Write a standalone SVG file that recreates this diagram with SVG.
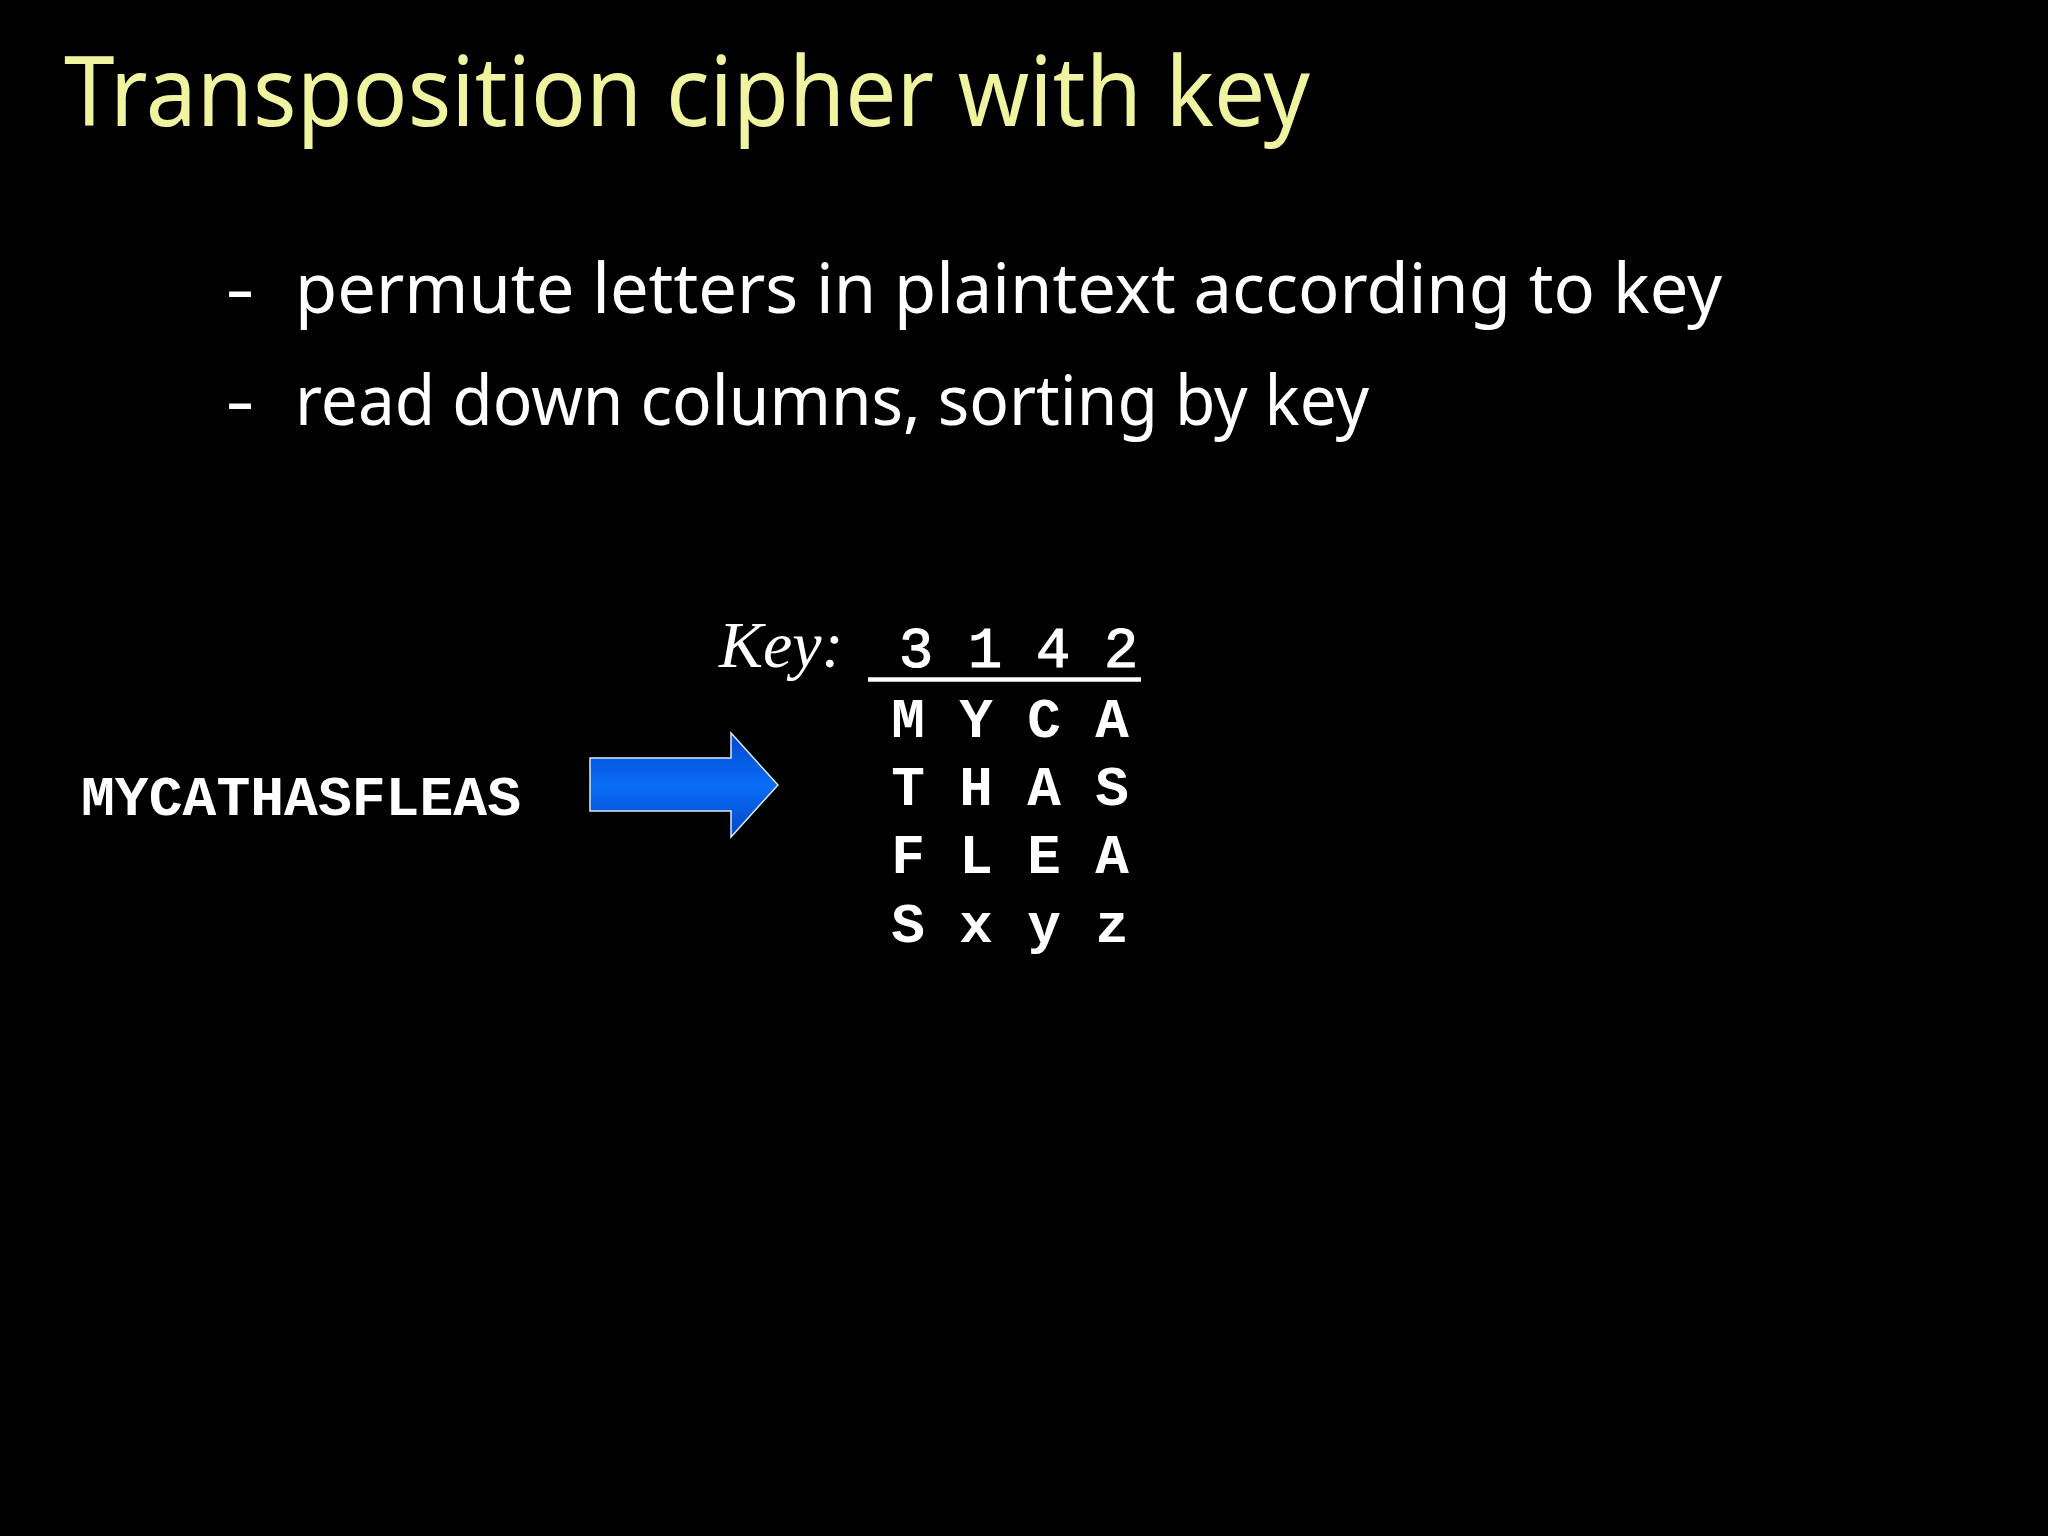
<svg xmlns="http://www.w3.org/2000/svg" width="2048" height="1536" viewBox="0 0 2048 1536">
  <defs>
    <linearGradient id="arrowFill" x1="0" y1="0" x2="0" y2="1">
      <stop offset="0" stop-color="#0048c8"/>
      <stop offset="0.5" stop-color="#0a6cf6"/>
      <stop offset="1" stop-color="#0048c8"/>
    </linearGradient>
    <style>
      .title { font-family: "Noto Sans", "DejaVu Sans", sans-serif; font-size: 96px; fill: #f0f4a0; }
      .bullet { font-family: "Noto Sans", "DejaVu Sans", sans-serif; font-size: 70px; fill: #ffffff; }
      .keylabel { font-family: "Liberation Serif", serif; font-style: italic; font-size: 66px; fill: #ffffff; }
      .digit { font-family: "Liberation Mono", monospace; font-size: 57px; fill: #ffffff; stroke: #ffffff; stroke-width: 1.2px; text-anchor: middle; }
      .cell { font-family: "Liberation Mono", monospace; font-weight: bold; font-size: 56px; fill: #ffffff; text-anchor: middle; }
      .plain { font-family: "Liberation Mono", monospace; font-weight: bold; font-size: 56px; fill: #ffffff; }
    </style>
  </defs>
  <rect x="0" y="0" width="2048" height="1536" fill="#000000"/>

  <g id="title">
    <text class="title" x="64" y="126" textLength="1246" lengthAdjust="spacingAndGlyphs">Transposition cipher with key</text>
  </g>

  <g id="bullets">
    <text class="bullet" x="227" y="313" textLength="26" lengthAdjust="spacingAndGlyphs">–</text>
    <text class="bullet" x="295" y="313" textLength="1427" lengthAdjust="spacingAndGlyphs">permute letters in plaintext according to key</text>
    <text class="bullet" x="227" y="425" textLength="26" lengthAdjust="spacingAndGlyphs">–</text>
    <text class="bullet" x="295" y="425" textLength="1074" lengthAdjust="spacingAndGlyphs">read down columns, sorting by key</text>
  </g>

  <g id="plaintext">
    <text class="plain" x="81" y="815" textLength="440" lengthAdjust="spacingAndGlyphs">MYCATHASFLEAS</text>
  </g>

  <g id="connectors">
    <polygon points="590,758 731,758 731,733 778,785 731,837 731,811 590,811" fill="url(#arrowFill)" stroke="#dce8ff" stroke-width="1.5"/>
  </g>

  <g id="key-table">
    <text class="keylabel" x="719" y="667">Key:</text>
    <text class="digit" x="916" y="667">3</text>
    <text class="digit" x="985" y="667">1</text>
    <text class="digit" x="1053" y="667">4</text>
    <text class="digit" x="1121" y="667">2</text>
    <line x1="868" y1="679.5" x2="1141" y2="679.5" stroke="#ffffff" stroke-width="4.5"/>

    <text class="cell" x="908" y="737">M</text>
    <text class="cell" x="976" y="737">Y</text>
    <text class="cell" x="1044" y="737">C</text>
    <text class="cell" x="1112" y="737">A</text>

    <text class="cell" x="908" y="805">T</text>
    <text class="cell" x="976" y="805">H</text>
    <text class="cell" x="1044" y="805">A</text>
    <text class="cell" x="1112" y="805">S</text>

    <text class="cell" x="908" y="873">F</text>
    <text class="cell" x="976" y="873">L</text>
    <text class="cell" x="1044" y="873">E</text>
    <text class="cell" x="1112" y="873">A</text>

    <text class="cell" x="908" y="942">S</text>
    <text class="cell" x="976" y="942">x</text>
    <text class="cell" x="1044" y="942">y</text>
    <text class="cell" x="1112" y="942">z</text>
  </g>
</svg>
